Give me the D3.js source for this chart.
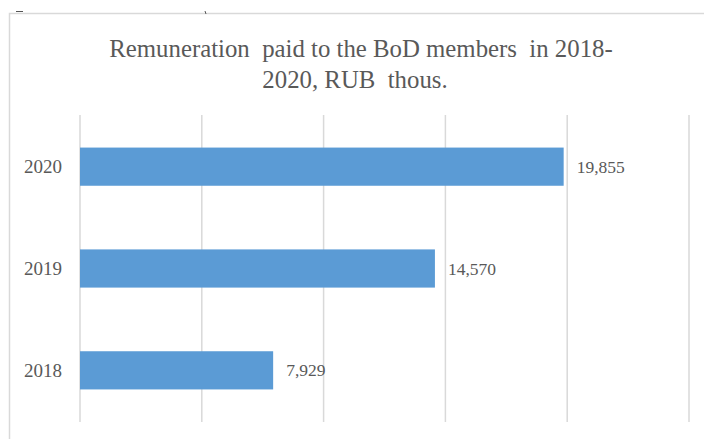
<!DOCTYPE html>
<html><head><meta charset="utf-8">
<script src="https://cdn.jsdelivr.net/npm/d3@7"></script>
<style>body{margin:0;background:#fff}svg{display:block}</style>
</head><body>
<script>
const categories = ["2020", "2019", "2018"];
const values = [19855, 14570, 7929];
const valueLabels = ["19,855", "14,570", "7,929"];
const xTicks = [0, 5000, 10000, 15000, 20000, 25000];
const titleLines = ["Remuneration  paid to the BoD members  in 2018-", "2020, RUB  thous."];

const W = 704, H = 439;
const svg = d3.select("body").append("svg").attr("width", W).attr("height", H);
const font = "'Liberation Serif', 'Times New Roman', serif";
const textColor = "#595959";

// chart frame
svg.append("rect").attr("x", 9.5).attr("y", 13.5).attr("width", 720).attr("height", 460)
  .attr("fill", "#fff").attr("stroke", "#d9d9d9").attr("stroke-width", 1.5);
svg.append("line").attr("x1", 16).attr("x2", 23).attr("y1", 11.5).attr("y2", 11.5).attr("stroke", "#555").attr("stroke-width", 1);
svg.append("line").attr("x1", 205).attr("x2", 206).attr("y1", 11).attr("y2", 14).attr("stroke", "#555").attr("stroke-width", 1);

const x = d3.scaleLinear().domain([0, 25000]).range([80, 689]);
const y = d3.scaleBand().domain(categories).range([116, 421]).paddingInner(0.625).paddingOuter(0.31);

// gridlines
svg.append("g").selectAll("line").data(xTicks).join("line")
  .attr("x1", d => x(d)).attr("x2", d => x(d))
  .attr("y1", 115).attr("y2", 422)
  .attr("stroke", "#d9d9d9").attr("stroke-width", 1.5);

// bars
svg.append("g").selectAll("rect").data(values).join("rect")
  .attr("x", x(0)).attr("y", (d, i) => y(categories[i]))
  .attr("width", d => x(d) - x(0)).attr("height", y.bandwidth())
  .attr("fill", "#5B9BD5");

// category labels
svg.append("g").selectAll("text").data(categories).join("text")
  .attr("x", 62).attr("y", d => y(d) + y.bandwidth() / 2)
  .attr("dy", "0.35em").attr("text-anchor", "end")
  .attr("font-family", font).attr("font-size", 19).attr("fill", textColor)
  .text(d => d);

// value labels
svg.append("g").selectAll("text").data(values).join("text")
  .attr("x", d => x(d) + 13).attr("y", (d, i) => y(categories[i]) + y.bandwidth() / 2)
  .attr("dy", "0.35em").attr("text-anchor", "start")
  .attr("font-family", font).attr("font-size", 17.5).attr("fill", textColor)
  .text((d, i) => valueLabels[i]);

// title
svg.append("g").selectAll("text").data(titleLines).join("text")
  .attr("x", (d, i) => i === 0 ? 361 : 355).attr("y", (d, i) => 57 + i * 31)
  .attr("text-anchor", "middle")
  .attr("font-family", font).attr("font-size", 24.8).attr("fill", textColor)
  .style("white-space", "pre")
  .text(d => d);
</script>
</body></html>
